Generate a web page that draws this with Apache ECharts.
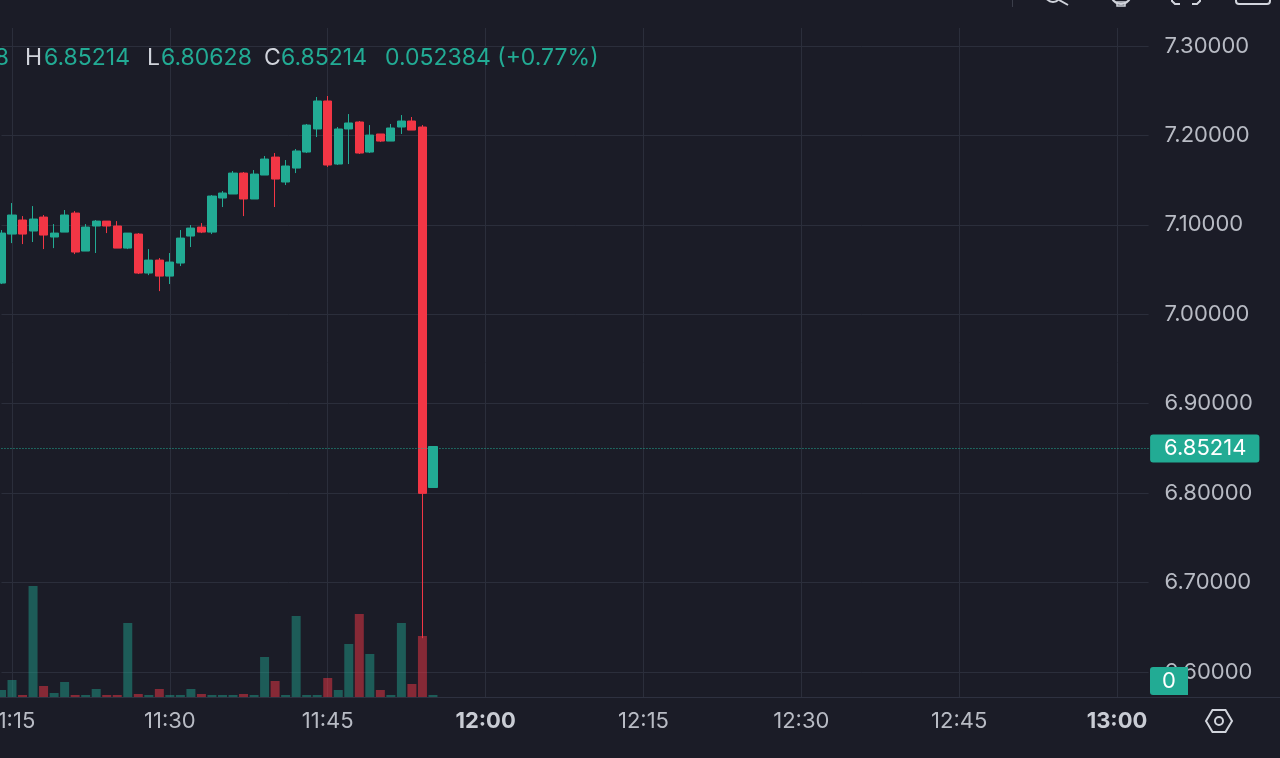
<!DOCTYPE html>
<html><head><meta charset="utf-8">
<script src="https://cdn.jsdelivr.net/npm/echarts@6/dist/echarts.min.js"></script>
<style>html,body{margin:0;padding:0;background:#1b1c27;overflow:hidden}#c{width:1280px;height:758px}</style>
</head><body><div id="c"></div>
<script>
// ---- data ----
const candleTimes = ['11:14','11:15','11:16','11:17','11:18','11:19','11:20','11:21','11:22','11:23','11:24','11:25','11:26','11:27','11:28','11:29','11:30','11:31','11:32','11:33','11:34','11:35','11:36','11:37','11:38','11:39','11:40','11:41','11:42','11:43','11:44','11:45','11:46','11:47','11:48','11:49','11:50','11:51','11:52','11:53','11:54','11:55'];
const opens  = [7.0349,7.0897,7.1054,7.0931,7.1087,7.0864,7.0919,7.1132,7.0707,7.0987,7.1042,7.0987,7.0740,7.0897,7.0461,7.0606,7.0427,7.0573,7.0875,7.0975,7.0919,7.1300,7.1345,7.1579,7.1289,7.1557,7.1758,7.1479,7.1635,7.1814,7.2072,7.2385,7.1680,7.2072,7.2150,7.1814,7.2016,7.1937,7.2094,7.2161,7.2094,6.80628];
const closes = [7.0908,7.1110,7.0897,7.1065,7.0886,7.0908,7.1110,7.0696,7.0975,7.1042,7.0987,7.0740,7.0908,7.0461,7.0606,7.0427,7.0584,7.0852,7.0964,7.0919,7.1322,7.1356,7.1579,7.1289,7.1568,7.1736,7.1512,7.1658,7.1826,7.2116,7.2385,7.1669,7.2072,7.2139,7.1803,7.2004,7.1937,7.2083,7.2161,7.2060,6.799756,6.85214];
const lows   = [7.0338,7.0796,7.0785,7.0808,7.0729,7.0740,7.0919,7.0673,7.0707,7.0685,7.0908,7.0740,7.0729,7.0450,7.0438,7.0259,7.0338,7.0539,7.0752,7.0908,7.0897,7.1199,7.1345,7.1098,7.1289,7.1557,7.1199,7.1445,7.1579,7.1803,7.1982,7.1647,7.1669,7.1680,7.1792,7.1803,7.1926,7.1937,7.2016,7.2060,6.6378,6.80628];
const highs  = [7.0942,7.1244,7.1098,7.1210,7.1110,7.1009,7.1166,7.1154,7.1009,7.1054,7.1042,7.1042,7.0908,7.0908,7.0729,7.0629,7.0685,7.0942,7.0998,7.1020,7.1333,7.1378,7.1602,7.1591,7.1613,7.1770,7.1803,7.1725,7.1848,7.2128,7.2430,7.2441,7.2094,7.2239,7.2161,7.2116,7.2016,7.2128,7.2228,7.2206,7.2116,6.85214];
const volumes = [3.5,8.5,1,55.5,5.5,2,7.5,1,1,4,1,1,37,1.5,1,4,1,1,4,1.5,1,1,1,1.5,1,20,8,1,40.5,1,1,9.5,3.5,26.5,41.5,21.5,3.5,1,37,6.5,30.5,0];
const priceMin = 6.6, priceMax = 7.3, priceStep = 0.1;

// time axis categories, one per minute 11:14 .. 13:03
const axisTimes = [];
for (let m = 11*60+14; m <= 13*60+3; m++) {
  axisTimes.push(Math.floor(m/60) + ':' + String(m%60).padStart(2,'0'));
}

// ---- styling ----
const UP = '#22ab94', DOWN = '#f23645';
const GRID = '#2b2e3b', TXT = '#b8bbc4';
const FONT = 'Inter, Roboto, sans-serif';
const FS = 22, LFS = 23;
const LEFT = 1.48, RIGHT = 131.4;

const candleData = candleTimes.map((t,i)=>[opens[i],closes[i],lows[i],highs[i]]);
const volData = volumes.map((v,i)=>({
  value: v,
  itemStyle: {color: closes[i] >= opens[i] ? 'rgba(34,171,148,0.45)' : 'rgba(242,54,69,0.5)'}
}));

const n = closes.length;
const lastO = opens[n-1], lastH = highs[n-1], lastL = lows[n-1], lastC = closes[n-1];
const chg = lastC - closes[n-2];
const pct = chg / closes[n-2] * 100;

const chart = echarts.init(document.getElementById('c'), null, {renderer:'canvas'});
const quarter = (i, v) => /:(00|15|30|45)$/.test(v);

const t = (x, txt, color) => ({
  type:'text', x:x, y:58, silent:true, z:50,
  style:{text:txt, fill:color, font:LFS+'px '+FONT, textAlign:'left', textVerticalAlign:'middle'}
});

chart.setOption({
  backgroundColor:'#1b1c27',
  animation:false,
  grid:[
    {left:LEFT, right:RIGHT, top:46, height:626, outerBoundsMode:'none', containLabel:false},
    {left:LEFT, right:RIGHT, top:28, height:669, outerBoundsMode:'none', containLabel:false}
  ],
  xAxis:[
    {type:'category', gridIndex:0, data:axisTimes, boundaryGap:false, show:false},
    {type:'category', gridIndex:1, data:axisTimes, boundaryGap:false,
     axisLine:{show:false}, axisTick:{show:false},
     axisLabel:{interval:quarter, margin:13, color:TXT, fontSize:FS, fontFamily:FONT,
       formatter: v => v.endsWith(':00') ? '{b|'+v+'}' : v,
       rich:{b:{fontWeight:'bold', fontSize:FS, color:'#c9ccd4', fontFamily:FONT}}},
     splitLine:{show:true, interval:quarter, lineStyle:{color:GRID, width:1}}}
  ],
  yAxis:[
    {type:'value', gridIndex:0, position:'right', min:priceMin, max:priceMax, interval:priceStep,
     axisLine:{show:false}, axisTick:{show:false},
     axisLabel:{color:TXT, fontSize:FS, fontFamily:FONT, margin:16, formatter: v => v.toFixed(5)},
     splitLine:{lineStyle:{color:GRID, width:1}}},
    {type:'value', gridIndex:1, min:0, max:334.5, show:false, splitLine:{show:false}}
  ],
  series:[
    {type:'bar', name:'Volume', xAxisIndex:1, yAxisIndex:1, data:volData, barWidth:9, barMinHeight:2, clip:false, z:1},
    {type:'candlestick', name:'Price', xAxisIndex:0, yAxisIndex:0, data:candleData, barWidth:8.6, clip:false, z:3,
     itemStyle:{color:UP, color0:DOWN, borderColor:UP, borderColor0:DOWN, borderWidth:1},
     markLine:{symbol:['none','none'], silent:true, animation:false,
       lineStyle:{color:UP, type:[1,2], width:1, opacity:1},
       label:{show:true, position:'end', distance:1.5, formatter: lastC.toFixed(5),
         color:'#ffffff', backgroundColor:UP, padding:[3,13,3,14], borderRadius:3,
         fontSize:FS, fontFamily:FONT, lineHeight:22},
       data:[{yAxis:lastC}]}}
  ],
  graphic:[
    // legend O/H/L/C line (the open value is cut off at the left edge)
    {type:'text', x:9, y:58, z:50, silent:true,
     style:{text:'{l|O}{v|'+lastO.toFixed(5)+'}', textAlign:'right', textVerticalAlign:'middle', font:LFS+'px '+FONT,
       rich:{l:{fill:'#d1d4dc', font:LFS+'px '+FONT}, v:{fill:UP, font:LFS+'px '+FONT}}}},
    t(25, 'H', '#d1d4dc'), t(44, lastH.toFixed(5), UP),
    t(147, 'L', '#d1d4dc'), t(161, lastL.toFixed(5), UP),
    t(264, 'C', '#d1d4dc'), t(281, lastC.toFixed(5), UP),
    t(385, chg.toFixed(6) + ' (' + (pct>=0?'+':'') + pct.toFixed(2) + '%)', UP),
    // time-scale separator
    {type:'line', silent:true, z:40, shape:{x1:0,y1:697.5,x2:1280,y2:697.5}, style:{stroke:'#2e3140', lineWidth:1}},
    // current volume tag
    {type:'rect', silent:true, z:60, shape:{x:1150,y:667,width:38,height:28,r:[3,0,0,3]}, style:{fill:UP}},
    {type:'text', silent:true, z:61, x:1169, y:681, style:{text:String(volumes[n-1]), fill:'#ffffff', font:FS+'px '+FONT, textAlign:'center', textVerticalAlign:'middle'}},
    // settings hexagon icon
    {type:'polygon', silent:true, z:60, shape:{points:[[1206,721],[1212.5,710],[1225.5,710],[1232,721],[1225.5,732],[1212.5,732]]}, style:{fill:'none', stroke:'#d1d4dc', lineWidth:2}},
    {type:'circle', silent:true, z:60, shape:{cx:1219,cy:721,r:4}, style:{fill:'none', stroke:'#d1d4dc', lineWidth:2}},
    // toolbar fragments at the top edge
    {type:'line', silent:true, z:60, shape:{x1:1012.5,y1:0,x2:1012.5,y2:7}, style:{stroke:'#3b3e4a', lineWidth:1}},
    {type:'circle', silent:true, z:60, shape:{cx:1053,cy:-6,r:8}, style:{fill:'none', stroke:'#d1d4dc', lineWidth:2}},
    {type:'line', silent:true, z:60, shape:{x1:1059,y1:0,x2:1068,y2:5}, style:{stroke:'#d1d4dc', lineWidth:2}},
    {type:'circle', silent:true, z:60, shape:{cx:1121,cy:-6,r:10}, style:{fill:'none', stroke:'#d1d4dc', lineWidth:2}},
    {type:'rect', silent:true, z:60, shape:{x:1117,y:2,width:8,height:4}, style:{fill:'none', stroke:'#d1d4dc', lineWidth:1.5}},
    {type:'polyline', silent:true, z:60, shape:{points:[[1172,-4],[1172,1],[1175,4],[1180,4]]}, style:{fill:'none', stroke:'#d1d4dc', lineWidth:2}},
    {type:'polyline', silent:true, z:60, shape:{points:[[1192,4],[1197,4],[1200,1],[1200,-4]]}, style:{fill:'none', stroke:'#d1d4dc', lineWidth:2}},
    {type:'rect', silent:true, z:60, shape:{x:1236,y:-20,width:34,height:24,r:3}, style:{fill:'none', stroke:'#d1d4dc', lineWidth:2}}
  ]
});
</script>
</body></html>
